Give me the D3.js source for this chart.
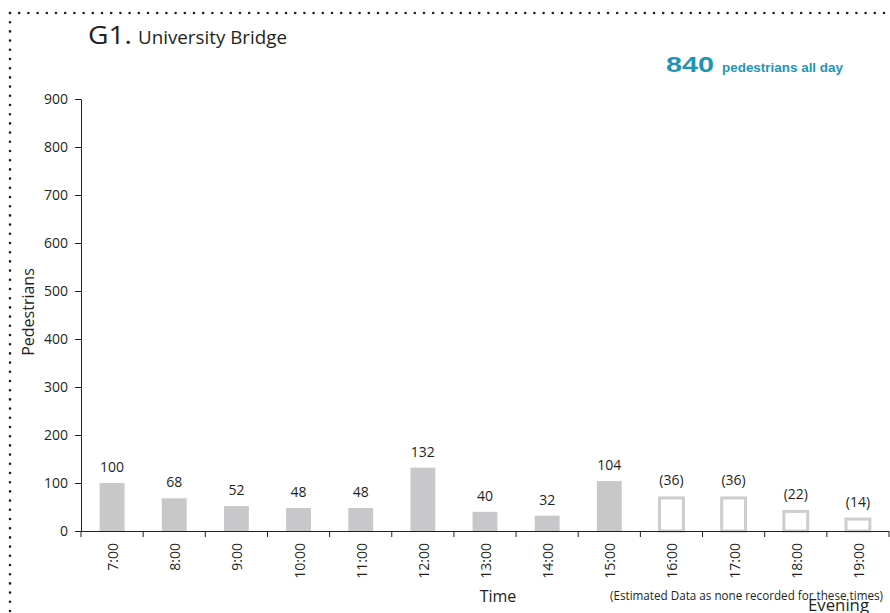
<!DOCTYPE html>
<html>
<head>
<meta charset="utf-8">
<script src="https://cdn.jsdelivr.net/npm/d3@7"></script>
<style>
  html, body { margin: 0; padding: 0; background: #fff; }
  svg { display: block; }
  text { font-family: "Open Sans", "Noto Sans", sans-serif; fill: #231f20; }
</style>
</head>
<body>
<svg id="chart" width="890" height="613"></svg>
<script>
// ---- data ----
const categories = ["7:00","8:00","9:00","10:00","11:00","12:00","13:00","14:00","15:00","16:00","17:00","18:00","19:00"];
const recordedValues = [100, 68, 52, 48, 48, 132, 40, 32, 104, null, null, null, null];
const estimatedBarValues = [null, null, null, null, null, null, null, null, null, 72, 72, 44, 28];
const estimatedLabels = [null, null, null, null, null, null, null, null, null, 36, 36, 22, 14];
const yTicks = [0, 100, 200, 300, 400, 500, 600, 700, 800, 900];
const totalPedestrians = 840;

(function () {
const svg = d3.select("#chart");
const W = 890, H = 613;
const mLeft = 81, mRight = 889, mTop = 99, mBottom = 531;

// dotted frame
svg.append("line").attr("x1", 10).attr("y1", 13).attr("x2", W).attr("y2", 13)
  .attr("stroke", "#231f20").attr("stroke-width", 2.6).attr("stroke-linecap", "round")
  .attr("stroke-dasharray", "0 9.2");
svg.append("line").attr("x1", 10).attr("y1", 13).attr("x2", 10).attr("y2", H)
  .attr("stroke", "#231f20").attr("stroke-width", 2.6).attr("stroke-linecap", "round")
  .attr("stroke-dasharray", "0 9.2");

// scales
const x = d3.scaleBand().domain(categories).range([mLeft, mRight]).paddingInner(0).paddingOuter(0);
const y = d3.scaleLinear().domain([0, 900]).range([mBottom, mTop]);
const bw = x.bandwidth();
const barW = bw * 0.4;

// y axis
const yAxis = d3.axisLeft(y).tickValues(yTicks).tickSize(6).tickPadding(7).tickSizeOuter(0);
const gy = svg.append("g").attr("transform", `translate(${mLeft},0)`).call(yAxis);
gy.select(".domain").attr("stroke", "#231f20");
gy.selectAll(".tick line").attr("stroke", "#231f20");
gy.selectAll(".tick text").style("font-size", "14px")
  .style("font-family", '"Open Sans", sans-serif');

// bars (recorded)
const rec = categories.map((c, i) => ({c, v: recordedValues[i]})).filter(d => d.v !== null);
svg.append("g").selectAll("rect").data(rec).join("rect")
  .attr("x", d => x(d.c) + (bw - barW) / 2)
  .attr("y", d => y(d.v))
  .attr("width", barW)
  .attr("height", d => y(0) - y(d.v))
  .attr("fill", "#c8c8ca");

// bars (estimated) outlined
const est = categories.map((c, i) => ({c, v: estimatedBarValues[i], l: estimatedLabels[i]})).filter(d => d.v !== null);
const sw = 3;
svg.append("g").selectAll("rect").data(est).join("rect")
  .attr("x", d => x(d.c) + (bw - barW) / 2 + sw / 2 - 1)
  .attr("y", d => y(d.v) + sw / 2)
  .attr("width", barW - sw + 2)
  .attr("height", d => y(0) - y(d.v) - sw / 2)
  .attr("fill", "#fff")
  .attr("stroke", "#cdcdcd")
  .attr("stroke-width", sw);

// value labels
svg.append("g").selectAll("text").data(rec).join("text")
  .attr("x", d => x(d.c) + bw / 2)
  .attr("y", d => y(d.v) - 11)
  .attr("text-anchor", "middle")
  .style("font-size", "14px")
  .text(d => d.v);
svg.append("g").selectAll("text").data(est).join("text")
  .attr("x", d => x(d.c) + bw / 2)
  .attr("y", d => y(d.v) - 11)
  .attr("text-anchor", "middle")
  .style("font-size", "14px")
  .text(d => `(${d.l})`);

// x axis line
svg.append("line").attr("x1", mLeft).attr("x2", mRight).attr("y1", mBottom + 0.5).attr("y2", mBottom + 0.5)
  .attr("stroke", "#231f20");
// boundary ticks
const bounds = categories.map(c => x(c)).concat([mRight]);
svg.append("g").selectAll("line").data(bounds).join("line")
  .attr("x1", d => d).attr("x2", d => d)
  .attr("y1", mBottom).attr("y2", mBottom + 6)
  .attr("stroke", "#231f20");
// x labels
const xAxis = d3.axisBottom(x).tickSize(0).tickPadding(0);
const gx = svg.append("g").attr("transform", `translate(0,${mBottom})`).call(xAxis);
gx.select(".domain").remove();
gx.selectAll(".tick text")
  .attr("transform", "translate(6,12) rotate(-90)")
  .attr("text-anchor", "end")
  .attr("dy", 0)
  .attr("x", 0).attr("y", 0)
  .style("font-size", "14px")
  .style("font-family", '"Open Sans", sans-serif');

// axis titles
svg.append("text").attr("transform", "translate(34,312) rotate(-90)")
  .attr("text-anchor", "middle").style("font-size", "16px").text("Pedestrians");
svg.append("text").attr("x", 498).attr("y", 602).attr("text-anchor", "middle")
  .style("font-size", "16px").text("Time");
svg.append("text").attr("x", 610).attr("y", 600)
  .attr("textLength", 273).attr("lengthAdjust", "spacingAndGlyphs")
  .style("font-size", "12px").text("(Estimated Data as none recorded for these times)");
svg.append("text").attr("x", 808).attr("y", 611)
  .attr("textLength", 61).attr("lengthAdjust", "spacingAndGlyphs")
  .style("font-size", "17px").text("Evening");

// title
svg.append("text").attr("x", 88).attr("y", 44)
  .attr("textLength", 44).attr("lengthAdjust", "spacingAndGlyphs")
  .style("font-size", "25px").text("G1.");
svg.append("text").attr("x", 138).attr("y", 44)
  .attr("textLength", 149).attr("lengthAdjust", "spacingAndGlyphs")
  .style("font-size", "18px").text("University Bridge");

// total
svg.append("text").attr("x", 666).attr("y", 72)
  .attr("textLength", 48).attr("lengthAdjust", "spacingAndGlyphs")
  .style("font-family", '"Liberation Sans", Arial, sans-serif').style("font-weight", "bold")
  .style("font-size", "22px").style("fill", "#1f95b3").text(totalPedestrians);
svg.append("text").attr("x", 722).attr("y", 72)
  .attr("textLength", 121).attr("lengthAdjust", "spacingAndGlyphs")
  .style("font-family", '"Liberation Sans", Arial, sans-serif').style("font-weight", "bold")
  .style("font-size", "13px").style("fill", "#1f95b3").text("pedestrians all day");
})();
</script>
</body>
</html>
